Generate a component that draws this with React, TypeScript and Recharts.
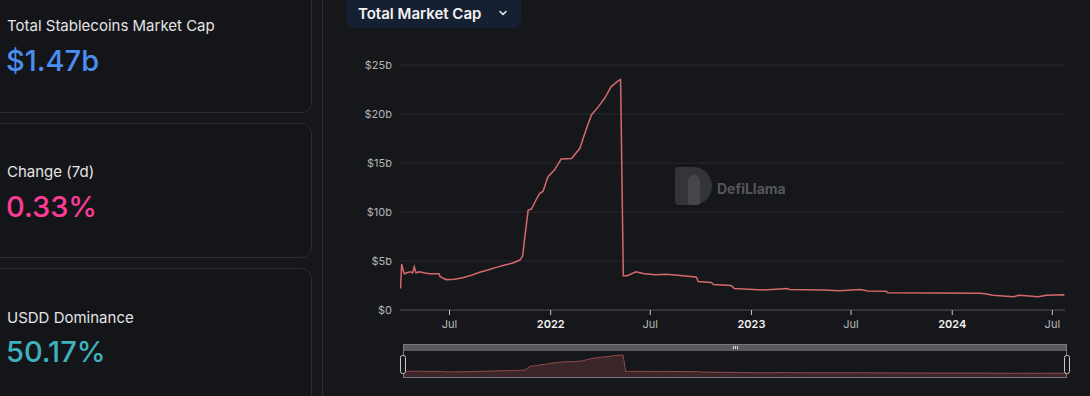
import React from 'react';
import { LineChart, Line, XAxis, YAxis, CartesianGrid, AreaChart, Area } from 'recharts';

// ---- data (values in billions USD) ----
const dates = [
  '2021-04-03', '2021-04-05', '2021-04-08', '2021-04-10', '2021-04-15', '2021-04-20', '2021-04-25',
  '2021-04-28', '2021-05-01', '2021-05-08', '2021-05-15', '2021-05-26', '2021-06-12', '2021-06-14',
  '2021-06-25', '2021-07-10', '2021-07-25', '2021-08-10', '2021-08-25', '2021-09-10', '2021-09-24',
  '2021-10-10', '2021-10-24', '2021-11-06', '2021-11-11', '2021-11-14', '2021-11-21', '2021-11-27',
  '2021-12-05', '2021-12-12', '2021-12-18', '2021-12-27', '2022-01-08', '2022-01-20', '2022-02-08',
  '2022-02-23', '2022-03-05', '2022-03-16', '2022-03-28', '2022-04-09', '2022-04-21', '2022-05-04',
  '2022-05-08', '2022-05-13', '2022-05-20', '2022-06-05', '2022-06-20', '2022-07-11', '2022-07-30',
  '2022-08-20', '2022-09-17', '2022-09-23', '2022-09-26', '2022-10-20', '2022-10-24', '2022-11-25',
  '2022-12-01', '2023-01-22', '2023-03-08', '2023-03-10', '2023-05-10', '2023-06-10', '2023-07-17',
  '2023-08-01', '2023-09-03', '2023-09-06', '2023-12-01', '2024-02-19', '2024-03-01', '2024-03-15',
  '2024-04-21', '2024-05-01', '2024-05-20', '2024-06-05', '2024-06-20', '2024-07-21', '2024-07-23',
];
const values = [
  2.2, 4.7, 4.0, 3.7, 3.8, 3.9, 3.8,
  4.4, 3.8, 3.9, 3.8, 3.7, 3.7, 3.4,
  3.1, 3.15, 3.3, 3.55, 3.85, 4.1, 4.35,
  4.6, 4.8, 5.1, 5.5, 7.0, 10.2, 10.3,
  11.2, 11.9, 12.1, 13.6, 14.3, 15.4, 15.45,
  16.5, 18.2, 19.9, 20.7, 21.6, 22.8, 23.4,
  23.5, 3.5, 3.5, 3.9, 3.7, 3.6, 3.65,
  3.55, 3.4, 3.35, 2.9, 2.8, 2.6, 2.5,
  2.2, 2.05, 2.2, 2.1, 2.05, 1.97, 2.1,
  1.94, 1.92, 1.77, 1.73, 1.7, 1.65, 1.5,
  1.36, 1.5, 1.42, 1.36, 1.5, 1.56, 1.5,
];
const xTickDates = ['2021-07-01', '2022-01-01', '2022-07-01', '2023-01-01', '2023-07-01', '2024-01-01', '2024-07-01'];
const yTicks = [0, 5, 10, 15, 20, 25];
const xDomainDates = ['2021-04-02', '2024-07-24'];
const monthNames = ['Jan', 'Feb', 'Mar', 'Apr', 'May', 'Jun', 'Jul', 'Aug', 'Sep', 'Oct', 'Nov', 'Dec'];

const stats = [
  { label: 'Total Stablecoins Market Cap', value: '$1.47b', color: '#4a8ef0' },
  { label: 'Change (7d)', value: '0.33%', color: '#fb3b96' },
  { label: 'USDD Dominance', value: '50.17%', color: '#3fb1be' },
];

const toTs = (s: string) => {
  const [y, m, d] = s.split('-').map(Number);
  return Date.UTC(y, m - 1, d);
};
const data = dates.map((d, i) => ({ t: toTs(d), v: values[i] }));
const xTicks = xTickDates.map(toTs);
const xDomain = xDomainDates.map(toTs);

const FONT = 'Inter, "Noto Sans", sans-serif';
const BG = '#16171b';
const BORDER = '#2c2d33';
const PANO_MIN = -4.3;

const fmtX = (v: number) => {
  const d = new Date(v);
  return d.getUTCMonth() === 0 ? String(d.getUTCFullYear()) : monthNames[d.getUTCMonth()];
};

const XTick = (props: any) => {
  const { x, y, payload } = props;
  const d = new Date(payload.value);
  const isYear = d.getUTCMonth() === 0;
  return (
    <text
      x={x}
      y={y}
      dy={10.5}
      textAnchor="middle"
      fill={isYear ? '#f4f4f4' : '#b8b8b8'}
      fontSize={11}
      fontWeight={isYear ? 600 : 400}
      fontFamily={FONT}
    >
      {fmtX(payload.value)}
    </text>
  );
};

const cardBoxes = [
  { top: -20, height: 132 },
  { top: 123, height: 134 },
  { top: 268, height: 200 },
];
const textLayout = [
  { labelY: 31, valueY: 71 },
  { labelY: 177, valueY: 217 },
  { labelY: 322.5, valueY: 362 },
];

export default function App() {
  return (
    <div
      style={{
        position: 'absolute',
        left: 0,
        top: 0,
        width: 1090,
        height: 396,
        background: BG,
        overflow: 'hidden',
        fontFamily: FONT,
      }}
    >
      {/* background layer: stat cards, dropdown, watermark */}
      <svg width={1090} height={396} style={{ position: 'absolute', left: 0, top: 0 }}>
        {cardBoxes.map((c, i) => (
          <rect key={i} x={-20.5} y={c.top + 0.5} width={332} height={c.height} rx={10} fill="#141519" stroke={BORDER} strokeWidth={1} />
        ))}
        <line x1={322.5} y1={0} x2={322.5} y2={396} stroke={BORDER} strokeWidth={1} />
        {stats.map((s, i) => (
          <g key={i}>
            <text x={7} y={textLayout[i].labelY} fill="#e4e4e6" fontSize={15} fontFamily={FONT}>
              {s.label}
            </text>
            <text x={6} y={textLayout[i].valueY} fill={s.color} fontSize={29} fontWeight={500} fontFamily={FONT}>
              {s.value}
            </text>
          </g>
        ))}
        {/* dropdown */}
        <rect x={346} y={-10} width={175} height={38} rx={9} fill="#162033" />
        <text x={358} y={19} fill="#f2f2f2" fontSize={15} fontWeight={600} fontFamily={FONT}>
          Total Market Cap
        </text>
        <polyline points="500,11.5 503,14.5 506,11.5" fill="none" stroke="#e8e8e8" strokeWidth={1.6} strokeLinecap="round" strokeLinejoin="round" />
        {/* watermark */}
        <g>
          <path d="M679,167 h14 a19,19 0 0 1 0,38 h-14 a4,4 0 0 1 -4,-4 v-30 a4,4 0 0 1 4,-4 z" fill="#34353a" />
          <rect x={688} y={178} width={12} height={27} rx={3} fill="#46474c" />
          <circle cx={694} cy={180} r={5} fill="#46474c" />
        </g>
        <text x={717} y={194} fill="#55565b" fontSize={14} fontWeight={700} fontFamily={FONT}>
          DefiLlama
        </text>
      </svg>

      {/* main chart */}
      <div style={{ position: 'absolute', left: 0, top: 0 }}>
        <LineChart width={1090} height={360} data={data} margin={{ top: 65, right: 25, bottom: 20, left: 0 }}>
          <CartesianGrid vertical={false} stroke="#26272c" />
          <XAxis
            dataKey="t"
            type="number"
            scale="time"
            domain={xDomain}
            ticks={xTicks}
            interval={0}
            tickFormatter={fmtX}
            tick={(p: any) => <XTick {...p} />}
            tickSize={5}
            tickMargin={2}
            axisLine={{ stroke: '#4a4b50' }}
            tickLine={{ stroke: '#c4c4c4' }}
            height={30}
            allowDataOverflow
          />
          <YAxis
            width={400}
            domain={[0, 25]}
            ticks={yTicks}
            interval={0}
            tickFormatter={(v: number) => (v === 0 ? '$0' : `$${v}b`)}
            axisLine={false}
            tickLine={false}
            tick={{ fill: '#b4b4b4', fontSize: 11, fontFamily: FONT }}
          />
          <Line type="linear" dataKey="v" stroke="#d4696b" strokeWidth={1.5} dot={false} isAnimationActive={false} />
        </LineChart>
      </div>

      {/* panorama (brush) */}
      <div style={{ position: 'absolute', left: 403, top: 351 }}>
        <AreaChart width={664} height={27} data={data} margin={{ top: 0, right: 0, bottom: 0, left: 0 }}>
          <XAxis dataKey="t" type="number" domain={['dataMin', 'dataMax']} hide />
          <YAxis domain={[PANO_MIN, 28.4]} hide />
          <Area
            type="linear"
            dataKey="v"
            stroke="#8e4a4c"
            strokeWidth={1}
            fill="#3c2629"
            fillOpacity={1}
            baseValue={PANO_MIN}
            isAnimationActive={false}
            dot={false}
          />
        </AreaChart>
      </div>

      {/* brush frame */}
      <svg width={1090} height={396} style={{ position: 'absolute', left: 0, top: 0, pointerEvents: 'none' }}>
        <rect x={403} y={344} width={664} height={7} fill="#5b5b5d" />
        <rect x={403.5} y={344.5} width={663} height={33} fill="none" stroke="#77787c" strokeWidth={1} />
        {[733, 735, 737].map((gx) => (
          <line key={gx} x1={gx + 0.5} y1={346} x2={gx + 0.5} y2={349} stroke="#dcdcdc" strokeWidth={1} />
        ))}
        <rect x={400.5} y={355.5} width={5} height={18} rx={2} fill={BG} stroke="#c8c8c8" strokeWidth={1} />
        <rect x={1064.5} y={355.5} width={5} height={18} rx={2} fill={BG} stroke="#c8c8c8" strokeWidth={1} />
      </svg>
    </div>
  );
}
